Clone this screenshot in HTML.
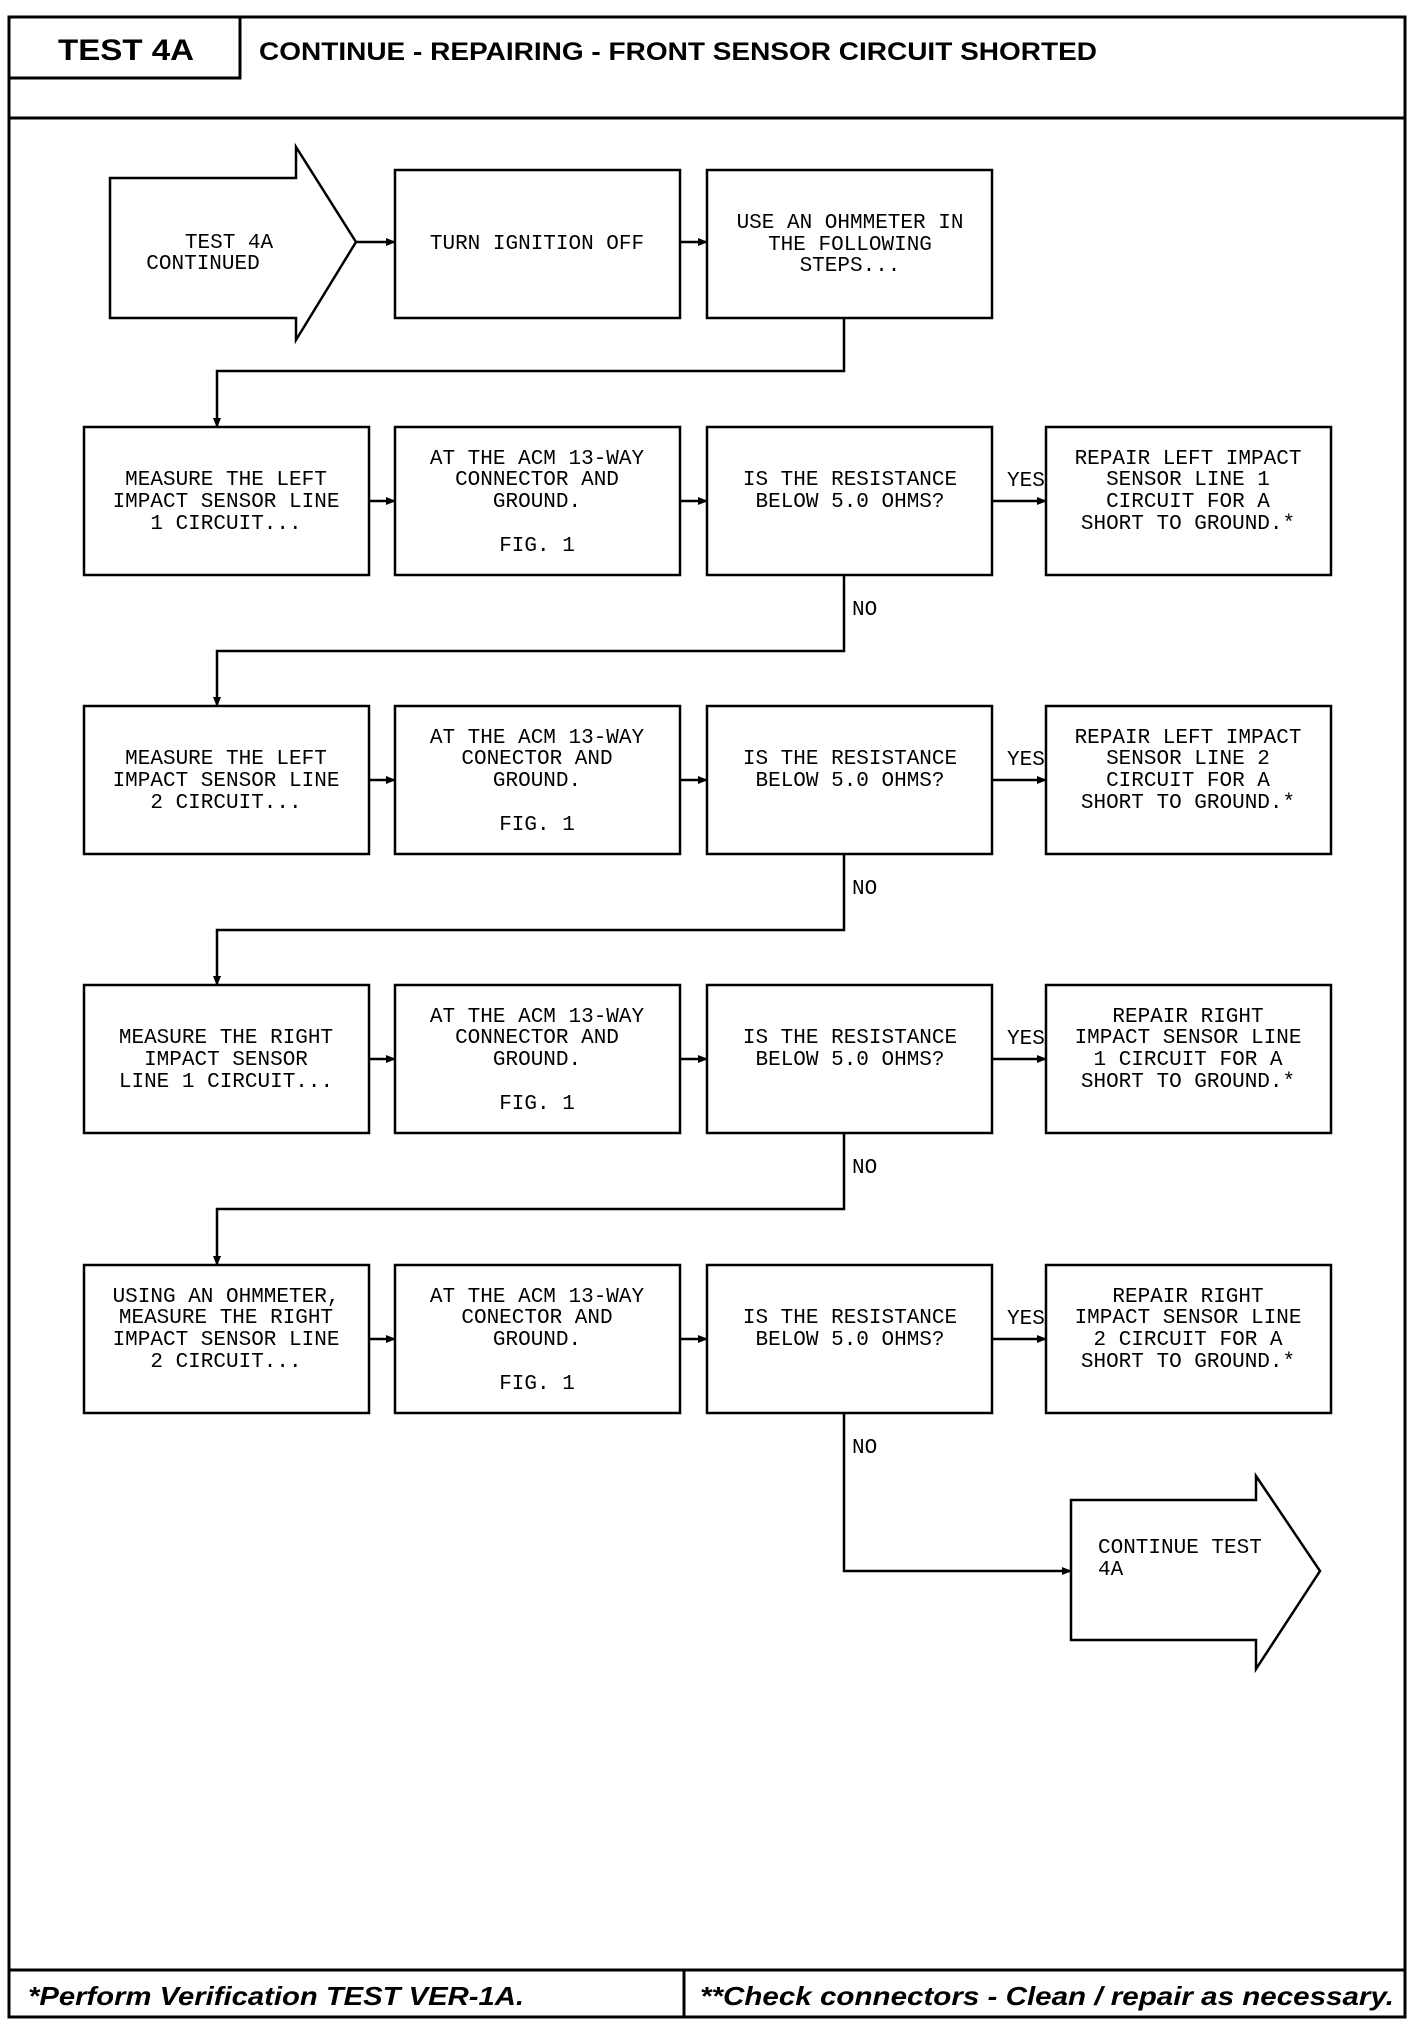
<!DOCTYPE html>
<html><head><meta charset="utf-8"><style>
html,body{margin:0;padding:0;background:#fff;}
svg{display:block;}
.m{font-family:"Liberation Mono",monospace;font-size:21px;fill:#000;text-anchor:middle;}
.l{font-family:"Liberation Mono",monospace;font-size:21px;fill:#000;}
.b{font-family:"Liberation Sans",sans-serif;font-weight:bold;fill:#000;}
</style></head><body>
<svg width="1424" height="2036" viewBox="0 0 1424 2036" xmlns="http://www.w3.org/2000/svg">
<defs><marker id="a" markerWidth="10" markerHeight="10" refX="9" refY="5" orient="auto" markerUnits="userSpaceOnUse"><path d="M0,1 L10,5 L0,9 Z" fill="#000"/></marker></defs>
<g fill="none" stroke="#000" stroke-width="3">
<rect x="9" y="17" width="1396" height="2000"/>
<line x1="9" y1="118" x2="1405" y2="118"/>
<polyline points="9,78 240,78 240,17"/>
<line x1="9" y1="1970" x2="1405" y2="1970"/>
<line x1="684" y1="1970" x2="684" y2="2017"/>
</g>
<text class="b" x="58" y="60" font-size="30" textLength="136" lengthAdjust="spacingAndGlyphs">TEST 4A</text>
<text class="b" x="259" y="60" font-size="25" textLength="838" lengthAdjust="spacingAndGlyphs">CONTINUE - REPAIRING - FRONT SENSOR CIRCUIT SHORTED</text>
<text class="b" x="28" y="2005" font-size="26" font-style="italic" textLength="496" lengthAdjust="spacingAndGlyphs">*Perform Verification TEST VER-1A.</text>
<text class="b" x="700" y="2005" font-size="26" font-style="italic" textLength="694" lengthAdjust="spacingAndGlyphs">**Check connectors - Clean / repair as necessary.</text>

<g fill="none" stroke="#000" stroke-width="2.5">
<polygon points="110,178 296,178 296,147 356,242 296,340 296,318 110,318"/>
<rect x="395" y="170" width="285" height="148"/>
<rect x="707" y="170" width="285" height="148"/>
<polygon points="1071,1500 1256,1500 1256,1476 1320,1571 1256,1669 1256,1640 1071,1640"/>
</g>
<g fill="none" stroke="#000" stroke-width="2.5">
<line x1="356" y1="242" x2="395" y2="242" marker-end="url(#a)"/>
<line x1="680" y1="242" x2="707" y2="242" marker-end="url(#a)"/>
<polyline points="844,318 844,371 217,371 217,427" marker-end="url(#a)"/>
</g>
<text class="m" x="229" y="248">TEST 4A</text>
<text class="m" x="203" y="269">CONTINUED</text>
<text class="m" x="537" y="249">TURN IGNITION OFF</text>
<text class="m" x="850" y="228">USE AN OHMMETER IN</text>
<text class="m" x="850" y="250">THE FOLLOWING</text>
<text class="m" x="850" y="271">STEPS...</text>

<!-- rows -->
<g id="rows" fill="none" stroke="#000" stroke-width="2.5">
<rect x="84" y="427" width="285" height="148"/><rect x="395" y="427" width="285" height="148"/><rect x="707" y="427" width="285" height="148"/><rect x="1046" y="427" width="285" height="148"/>
<rect x="84" y="706" width="285" height="148"/><rect x="395" y="706" width="285" height="148"/><rect x="707" y="706" width="285" height="148"/><rect x="1046" y="706" width="285" height="148"/>
<rect x="84" y="985" width="285" height="148"/><rect x="395" y="985" width="285" height="148"/><rect x="707" y="985" width="285" height="148"/><rect x="1046" y="985" width="285" height="148"/>
<rect x="84" y="1265" width="285" height="148"/><rect x="395" y="1265" width="285" height="148"/><rect x="707" y="1265" width="285" height="148"/><rect x="1046" y="1265" width="285" height="148"/>
</g>
<g fill="none" stroke="#000" stroke-width="2.5">
<line x1="369" y1="501" x2="395" y2="501" marker-end="url(#a)"/><line x1="680" y1="501" x2="707" y2="501" marker-end="url(#a)"/><line x1="992" y1="501" x2="1046" y2="501" marker-end="url(#a)"/>
<line x1="369" y1="780" x2="395" y2="780" marker-end="url(#a)"/><line x1="680" y1="780" x2="707" y2="780" marker-end="url(#a)"/><line x1="992" y1="780" x2="1046" y2="780" marker-end="url(#a)"/>
<line x1="369" y1="1059" x2="395" y2="1059" marker-end="url(#a)"/><line x1="680" y1="1059" x2="707" y2="1059" marker-end="url(#a)"/><line x1="992" y1="1059" x2="1046" y2="1059" marker-end="url(#a)"/>
<line x1="369" y1="1339" x2="395" y2="1339" marker-end="url(#a)"/><line x1="680" y1="1339" x2="707" y2="1339" marker-end="url(#a)"/><line x1="992" y1="1339" x2="1046" y2="1339" marker-end="url(#a)"/>
<polyline points="844,575 844,651 217,651 217,706" marker-end="url(#a)"/>
<polyline points="844,854 844,930 217,930 217,985" marker-end="url(#a)"/>
<polyline points="844,1133 844,1209 217,1209 217,1265" marker-end="url(#a)"/>
<polyline points="844,1413 844,1571 1071,1571" marker-end="url(#a)"/>
</g>
<g class="l">
<text class="l" x="1007" y="486">YES</text><text class="l" x="1007" y="765">YES</text><text class="l" x="1007" y="1044">YES</text><text class="l" x="1007" y="1324">YES</text>
<text class="l" x="852" y="615">NO</text><text class="l" x="852" y="894">NO</text><text class="l" x="852" y="1173">NO</text><text class="l" x="852" y="1453">NO</text>
</g>
<text class="l" x="1098" y="1553">CONTINUE TEST</text>
<text class="l" x="1098" y="1575">4A</text>

<!-- row1 -->
<text class="m" x="226" y="485">MEASURE THE LEFT</text><text class="m" x="226" y="507">IMPACT SENSOR LINE</text><text class="m" x="226" y="529">1 CIRCUIT...</text>
<text class="m" x="537" y="464">AT THE ACM 13-WAY</text><text class="m" x="537" y="485">CONNECTOR AND</text><text class="m" x="537" y="507">GROUND.</text><text class="m" x="537" y="551">FIG. 1</text>
<text class="m" x="850" y="485">IS THE RESISTANCE</text><text class="m" x="850" y="507">BELOW 5.0 OHMS?</text>
<text class="m" x="1188" y="464">REPAIR LEFT IMPACT</text><text class="m" x="1188" y="485">SENSOR LINE 1</text><text class="m" x="1188" y="507">CIRCUIT FOR A</text><text class="m" x="1188" y="529">SHORT TO GROUND.*</text>
<!-- row2 -->
<text class="m" x="226" y="764">MEASURE THE LEFT</text><text class="m" x="226" y="786">IMPACT SENSOR LINE</text><text class="m" x="226" y="808">2 CIRCUIT...</text>
<text class="m" x="537" y="743">AT THE ACM 13-WAY</text><text class="m" x="537" y="764">CONECTOR AND</text><text class="m" x="537" y="786">GROUND.</text><text class="m" x="537" y="830">FIG. 1</text>
<text class="m" x="850" y="764">IS THE RESISTANCE</text><text class="m" x="850" y="786">BELOW 5.0 OHMS?</text>
<text class="m" x="1188" y="743">REPAIR LEFT IMPACT</text><text class="m" x="1188" y="764">SENSOR LINE 2</text><text class="m" x="1188" y="786">CIRCUIT FOR A</text><text class="m" x="1188" y="808">SHORT TO GROUND.*</text>
<!-- row3 -->
<text class="m" x="226" y="1043">MEASURE THE RIGHT</text><text class="m" x="226" y="1065">IMPACT SENSOR</text><text class="m" x="226" y="1087">LINE 1 CIRCUIT...</text>
<text class="m" x="537" y="1022">AT THE ACM 13-WAY</text><text class="m" x="537" y="1043">CONNECTOR AND</text><text class="m" x="537" y="1065">GROUND.</text><text class="m" x="537" y="1109">FIG. 1</text>
<text class="m" x="850" y="1043">IS THE RESISTANCE</text><text class="m" x="850" y="1065">BELOW 5.0 OHMS?</text>
<text class="m" x="1188" y="1022">REPAIR RIGHT</text><text class="m" x="1188" y="1043">IMPACT SENSOR LINE</text><text class="m" x="1188" y="1065">1 CIRCUIT FOR A</text><text class="m" x="1188" y="1087">SHORT TO GROUND.*</text>
<!-- row4 -->
<text class="m" x="226" y="1302">USING AN OHMMETER,</text><text class="m" x="226" y="1323">MEASURE THE RIGHT</text><text class="m" x="226" y="1345">IMPACT SENSOR LINE</text><text class="m" x="226" y="1367">2 CIRCUIT...</text>
<text class="m" x="537" y="1302">AT THE ACM 13-WAY</text><text class="m" x="537" y="1323">CONECTOR AND</text><text class="m" x="537" y="1345">GROUND.</text><text class="m" x="537" y="1389">FIG. 1</text>
<text class="m" x="850" y="1323">IS THE RESISTANCE</text><text class="m" x="850" y="1345">BELOW 5.0 OHMS?</text>
<text class="m" x="1188" y="1302">REPAIR RIGHT</text><text class="m" x="1188" y="1323">IMPACT SENSOR LINE</text><text class="m" x="1188" y="1345">2 CIRCUIT FOR A</text><text class="m" x="1188" y="1367">SHORT TO GROUND.*</text>
</svg>
</body></html>
